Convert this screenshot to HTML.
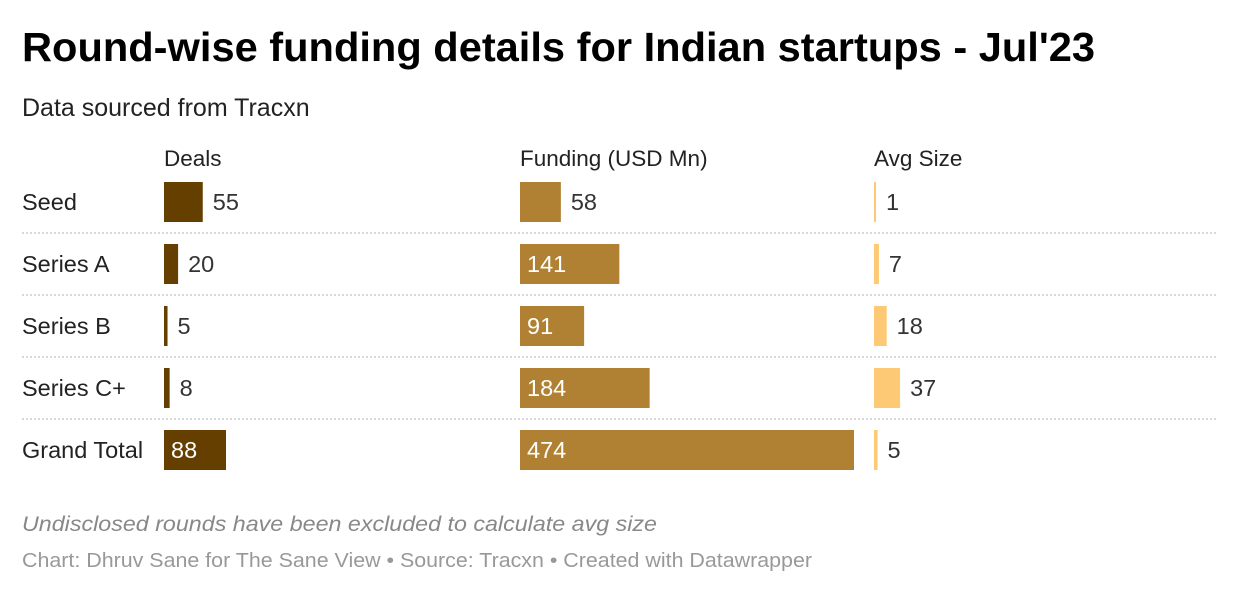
<!DOCTYPE html>
<html><head><meta charset="utf-8"><style>
body{margin:0;background:#fff;}
svg{display:block;font-family:"Liberation Sans",Arial,sans-serif;}
</style></head><body>
<svg id="chart" width="1240" height="594" viewBox="0 0 1240 594">
<text x="22" y="61" font-size="41" font-weight="bold" fill="#000" textLength="1073" lengthAdjust="spacingAndGlyphs">Round-wise funding details for Indian startups - Jul'23</text>
<text x="22" y="116" font-size="25" fill="#222">Data sourced from Tracxn</text>
<text x="164" y="166" font-size="22.5" fill="#222">Deals</text>
<text x="520" y="166" font-size="22.5" fill="#222">Funding (USD Mn)</text>
<text x="874" y="166" font-size="22.5" fill="#222">Avg Size</text>
<g id="rows"></g>
<text x="22" y="531" font-size="21" font-style="italic" fill="#888" textLength="635" lengthAdjust="spacingAndGlyphs">Undisclosed rounds have been excluded to calculate avg size</text>
<text x="22" y="567" font-size="20" fill="#999" textLength="790" lengthAdjust="spacingAndGlyphs">Chart: Dhruv Sane for The Sane View • Source: Tracxn • Created with Datawrapper</text>
</svg>
<script>
const categories = ["Seed","Series A","Series B","Series C+","Grand Total"];
const deals = [55,20,5,8,88];
const funding = [58,141,91,184,474];
const avgSize = [1,7,18,37,5];
const NS="http://www.w3.org/2000/svg";
const g=document.getElementById('rows');
const scale=v=>v*334/474;
const rowY=i=>182+i*62;
function mk(tag,attrs){const e=document.createElementNS(NS,tag);for(const k in attrs)e.setAttribute(k,attrs[k]);g.appendChild(e);return e;}
const cols=[{x:164,data:deals,color:"#643f00",name:"deals"},{x:520,data:funding,color:"#b08133",name:"funding"},{x:874,data:avgSize,color:"#fdc974",name:"avg-size"}];
categories.forEach((c,i)=>{
  const y=rowY(i);
  const lab=mk('text',{x:22,y:y+28,'font-size':23.5,fill:'#222'});
  lab.textContent=c;
  
  
  if(i<categories.length-1){
    const ln=mk('line',{x1:22,x2:1218,y1:y+51,y2:y+51,stroke:'#ccc','stroke-width':1.5,'stroke-dasharray':'2 2'});
    
    
  }
  cols.forEach(col=>{
    const v=col.data[i];const w=Math.max(2,scale(v));
    const r=mk('rect',{x:col.x,y:y,width:w,height:40,fill:col.color});
    
    
    const inside=w>50;
    const t=mk('text',{x:inside?col.x+7:col.x+w+10,y:y+28,'font-size':23.5,fill:inside?'#fff':'#333'});
    t.textContent=v;
    
    
  });
});
</script>
</body></html>
